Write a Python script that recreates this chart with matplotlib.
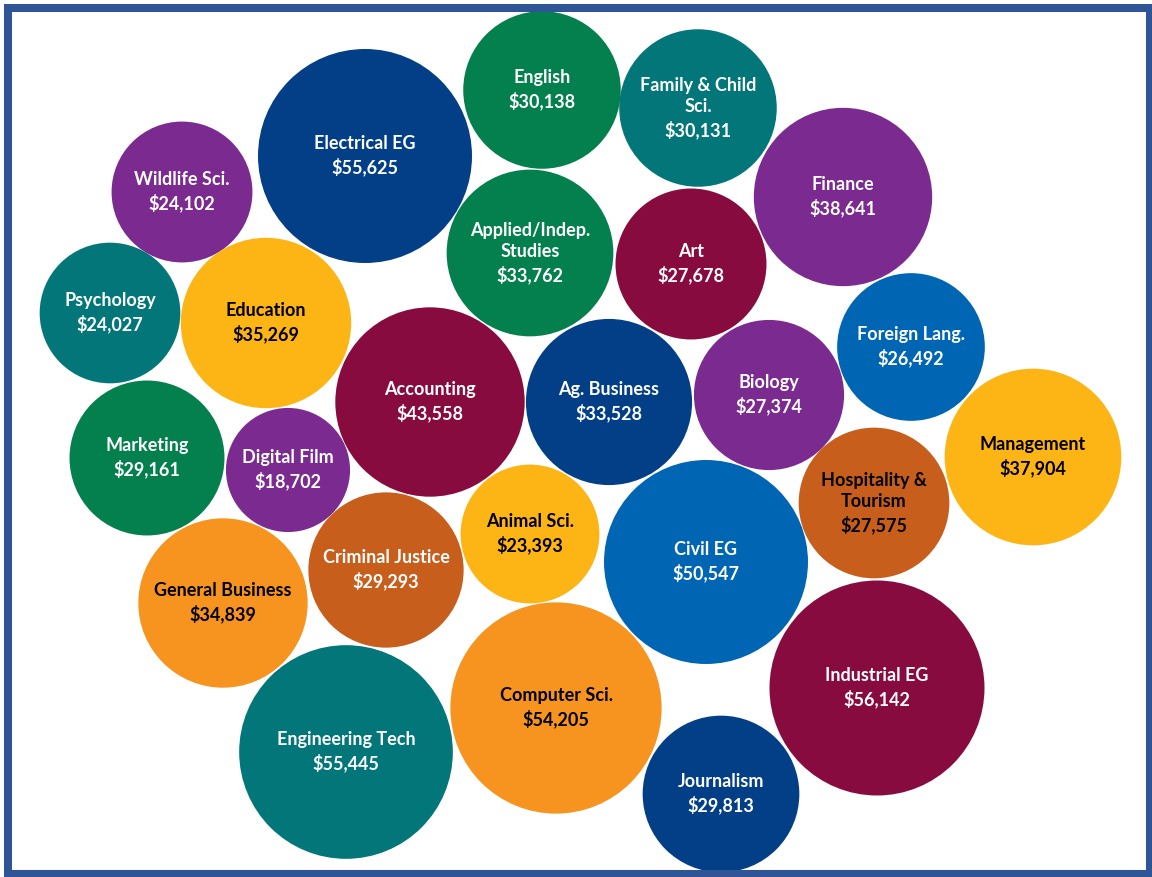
import matplotlib
matplotlib.use('Agg')
import matplotlib.pyplot as plt
from matplotlib.patches import Circle, Rectangle
import numpy as np

# data
majors = ['English', 'Family & Child\nSci.', 'Electrical EG', 'Wildlife Sci.', 'Finance',
          'Applied/Indep.\nStudies', 'Art', 'Psychology', 'Education', 'Foreign Lang.',
          'Accounting', 'Ag. Business', 'Biology', 'Management', 'Marketing',
          'Digital Film', 'Hospitality &\nTourism', 'Animal Sci.', 'Civil EG',
          'General Business', 'Criminal Justice', 'Computer Sci.', 'Industrial EG',
          'Engineering Tech', 'Journalism']
salaries = [30138, 30131, 55625, 24102, 38641,
            33762, 27678, 24027, 35269, 26492,
            43558, 33528, 27374, 37904, 29161,
            18702, 27575, 23393, 50547,
            34839, 29293, 54205, 56142,
            55445, 29813]

# layout (bubble centres, in pixels of the 1152x877 canvas)
cx = [542, 698, 365, 182, 843, 530, 691, 110, 266, 911,
      430, 609, 769, 1033, 147, 288, 874, 530, 706,
      223, 386, 556, 877, 346, 721]
cy = [90, 108, 156, 192, 197, 253, 264, 313, 323, 347,
      402, 402, 395, 457, 458, 470, 503, 534, 562,
      603, 570, 708, 688, 752, 794]

purple = '#7B2A8F'
navy = '#033F87'
green = '#04804E'
teal = '#037679'
maroon = '#880B40'
gold = '#FDB515'
blue = '#0066B3'
rust = '#C85E1C'
orange = '#F79420'

colors = [green, teal, navy, purple, purple, green, maroon, teal, gold, blue,
          maroon, navy, purple, gold, green, purple, rust, gold, blue,
          orange, rust, orange, maroon, teal, navy]
dark_text = {gold, orange}

k = 107 / np.sqrt(55625)   # area proportional to salary

fig = plt.figure(figsize=(11.52, 8.77), dpi=100)
ax = fig.add_axes([0, 0, 1, 1])
ax.set_xlim(0, 1152)
ax.set_ylim(877, 0)
ax.set_aspect('equal')
ax.axis('off')

for i in range(len(majors)):
    r = k * np.sqrt(salaries[i])
    ax.add_patch(Circle((cx[i], cy[i]), r, facecolor=colors[i], edgecolor='none'))
    tc = 'black' if (colors[i] in dark_text or majors[i].startswith('Hospitality')) else 'white'
    label = majors[i] + '\n${:,}'.format(salaries[i])
    ax.text(cx[i], cy[i], label, ha='center', va='center', color=tc,
            fontsize=13, fontweight='bold', family='Lato', linespacing=1.34)

ax.add_patch(Rectangle((8, 8), 1142, 866, fill=False, edgecolor='#2F5597', linewidth=5.8))

fig.savefig('out.png', dpi=100)
